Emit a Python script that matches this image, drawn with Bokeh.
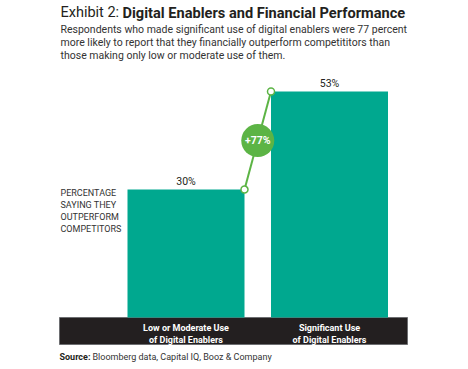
from bokeh.plotting import figure
from bokeh.models import Range1d, Label
from bokeh.embed import file_html
from bokeh.resources import INLINE

# ---- data ----
categories = ["Low or Moderate Use\nof Digital Enablers", "Significant Use\nof Digital Enablers"]
values = [30, 53]
value_labels = ["30%", "53%"]
uplift_label = "+77%"
title_prefix = "Exhibit 2:"
title_main = "Digital Enablers and Financial Performance"
subtitle_lines = [
    "Respondents who made significant use of digital enablers were 77 percent",
    "more likely to report that they financially outperform competititors than",
    "those making only low or moderate use of them.",
]
side_label_lines = ["PERCENTAGE", "SAYING THEY", "OUTPERFORM", "COMPETITORS"]
source_prefix = "Source:"
source_text = "Bloomberg data, Capital IQ, Booz & Company"

TEAL = "#00a88f"
GREEN = "#5cb445"
DARK = "#231f20"
FONT = "Roboto"

# pixel -> data helpers (layout only)
XC, XU = 185.5, 143.5
YB, YU = 317.0, 4.264
def X(px):
    return (px - XC) / XU
def Y(py):
    return (YB - py) / YU

p = figure(width=468, height=369, output_backend="svg", toolbar_location=None,
           x_range=Range1d(X(0), X(468)), y_range=Range1d(Y(369), Y(0)),
           min_border=0, outline_line_color=None)
p.axis.visible = False
p.grid.visible = False
p.background_fill_color = "white"
p.border_fill_color = "white"

xs = list(range(len(values)))
bw = 117 / XU

# dark category band
p.quad(left=X(59), right=X(407), top=0, bottom=Y(344), fill_color=DARK,
       line_color="#6d6e71", line_width=1)

p.vbar(x=xs, top=values, bottom=0, width=bw, fill_color=TEAL, line_color=None)

# connector line
lx = [xs[0] + bw / 2, xs[1] - bw / 2]
ly = [values[0], values[1]]
p.line(lx, ly, line_color=GREEN, line_width=2)
p.scatter(lx, ly, size=7, fill_color="white", line_color=GREEN, line_width=1.5)
mx, my = sum(lx) / 2, sum(ly) / 2
p.scatter([mx], [my], size=33, fill_color=GREEN, line_color=None)
p.add_layout(Label(x=mx, y=my, text=uplift_label, text_align="center", text_baseline="middle",
                   text_font=FONT, text_font_style="bold", text_font_size="10.5px", text_color="white"))

# value labels
for xi, v, t in zip(xs, values, value_labels):
    p.add_layout(Label(x=xi, y=v, y_offset=8, text=t, text_align="center", text_baseline="middle",
                       text_font=FONT, text_font_size="10.5px", text_color=DARK))

# category labels in band
for xi, c in zip(xs, categories):
    for j, line in enumerate(c.split("\n")):
        p.add_layout(Label(x=xi, y=Y(327.5 + 12 * j), text=line, text_align="center",
                           text_baseline="middle", text_font=FONT, text_font_style="bold",
                           text_font_size="9px", text_color="white"))

# title
p.add_layout(Label(x=X(60), y=Y(12), text=title_prefix, text_baseline="alphabetic",
                   text_font=FONT, text_font_size="14.5px", text_color=DARK))
p.add_layout(Label(x=X(122), y=Y(12), text=title_main, text_baseline="alphabetic",
                   text_font=FONT, text_font_style="bold", text_font_size="14.6px", text_color=DARK))
for j, line in enumerate(subtitle_lines):
    p.add_layout(Label(x=X(60), y=Y(29 + 13 * j), text=line, text_baseline="alphabetic",
                       text_font=FONT, text_font_size="10.5px", text_color="#333333"))

# side label
for j, line in enumerate(side_label_lines):
    p.add_layout(Label(x=X(60), y=Y(192 + 12 * j), text=line, text_baseline="middle",
                       text_font=FONT, text_font_size="9px", text_color="#333333"))

# source
p.add_layout(Label(x=X(59), y=Y(356.5), text=source_prefix, text_baseline="alphabetic",
                   text_font=FONT, text_font_style="bold", text_font_size="9px", text_color=DARK))
p.add_layout(Label(x=X(92), y=Y(356.5), text=source_text, text_baseline="alphabetic",
                   text_font=FONT, text_font_size="9px", text_color="#333333"))

open("out.html", "w").write(file_html(p, INLINE))
